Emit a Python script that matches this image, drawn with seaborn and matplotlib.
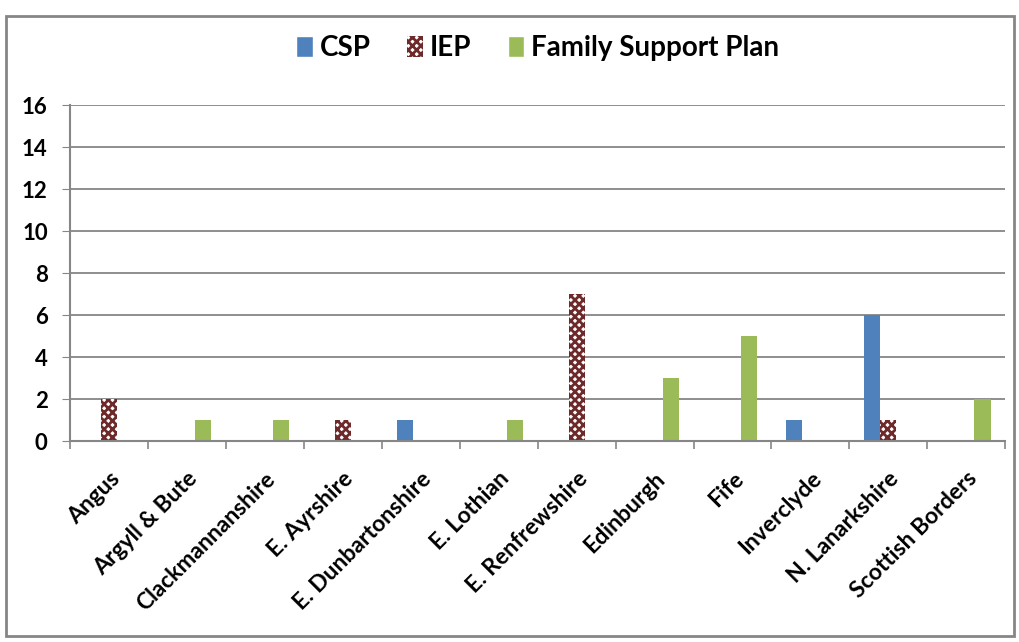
#%% IMPORTS
import numpy as np
import pandas as pd
import seaborn as sns
import matplotlib
matplotlib.use("Agg")
from matplotlib import pyplot as plt
from matplotlib.patches import Rectangle
from matplotlib.transforms import ScaledTranslation

#%% DATA
areas = ["Angus", "Argyll & Bute", "Clackmannanshire", "E. Ayrshire",
         "E. Dunbartonshire", "E. Lothian", "E. Renfrewshire", "Edinburgh",
         "Fife", "Inverclyde", "N. Lanarkshire", "Scottish Borders"]
csp = [0, 0, 0, 0, 1, 0, 0, 0, 0, 1, 6, 0]
iep = [2, 0, 0, 1, 0, 0, 7, 0, 0, 0, 1, 0]
fsp = [0, 1, 1, 0, 0, 1, 0, 3, 5, 0, 0, 2]
plans = ["CSP", "IEP", "Family Support Plan"]
colours = ["#4F81BD", "#FFFFFF", "#9BBB59"]
yticks = [0, 2, 4, 6, 8, 10, 12, 14, 16]

#%% BUILD TABLE
df = pd.DataFrame({
    "Area": areas * 3,
    "Plan": [plans[0]] * len(areas) + [plans[1]] * len(areas) + [plans[2]] * len(areas),
    "Count": csp + iep + fsp,
})

#%% PLOT
sns.set_style("white")
plt.rcParams['font.family'] = ['Lato', 'DejaVu Sans']
plt.rcParams['hatch.linewidth'] = 2.0
plt.rcParams['text.color'] = 'black'
plt.rcParams['xtick.labelcolor'] = 'black'
plt.rcParams['ytick.labelcolor'] = 'black'
iep_col = "#6E2A2A"

fig = plt.figure(figsize=(10.2, 6.42), dpi=100)
ax = fig.add_axes([0.0686, 0.313, 0.917, 0.523])

sns.barplot(data=df, x="Area", y="Count", hue="Plan", hue_order=plans,
            palette=colours, width=0.62, gap=0, saturation=1,
            ax=ax, legend=True)

# checker pattern for IEP
for bar in ax.containers[1]:
    bar.set_facecolor("white")
    bar.set_edgecolor(iep_col)
    bar.set_hatch("xxxx")
    bar.set_linewidth(0)
for bar in list(ax.containers[0]) + list(ax.containers[2]):
    bar.set_linewidth(0)

ax.set_ylim(0, 16)
ax.set_yticks(yticks)
ax.set_xlim(-0.5, len(areas) - 0.5)
ax.yaxis.grid(True, color="#868686", linewidth=1.3)
ax.set_axisbelow(True)
ax.set_xlabel("")
ax.set_ylabel("")

for side in ["top", "right"]:
    ax.spines[side].set_visible(False)
for side in ["left", "bottom"]:
    ax.spines[side].set_color("#868686")
    ax.spines[side].set_linewidth(1.5)

ax.tick_params(axis="y", which="both", left=True, length=6, color="#868686",
               labelsize=16, pad=10)
for lab in ax.get_yticklabels():
    lab.set_fontweight("bold")

# x tick marks between categories
ax.set_xticks(np.arange(len(areas)))
ax.set_xticklabels(areas, rotation=45, ha="right", rotation_mode="anchor",
                   fontsize=16.5, fontweight="bold")
shift = ScaledTranslation(8 / 100, 0, fig.dpi_scale_trans)
for lab in ax.get_xticklabels():
    lab.set_transform(lab.get_transform() + shift)
ax.set_xticks(np.arange(len(areas) + 1) - 0.5, minor=True)
ax.tick_params(axis="x", which="major", bottom=False, pad=16)
ax.tick_params(axis="x", which="minor", bottom=True, length=6, color="#868686", width=1.2)

# legend on top
handles, labels = ax.get_legend_handles_labels()
leg = ax.legend(handles, labels, loc="center", bbox_to_anchor=(0.5, 1.17),
                ncol=3, frameon=False, handlelength=0.6, handleheight=0.8,
                handletextpad=0.25, columnspacing=1.3,
                prop={"weight": "bold", "size": 20})
iep_handle = leg.legend_handles[1]
iep_handle.set_facecolor("white")
iep_handle.set_edgecolor(iep_col)
iep_handle.set_hatch("xxxx")
iep_handle.set_linewidth(0)

# outer chart frame
fig.patches.append(Rectangle((0.006, 0.01), 0.988, 0.965, transform=fig.transFigure,
                             fill=False, edgecolor="#868686", linewidth=2))

fig.savefig("out.png", dpi=100)
